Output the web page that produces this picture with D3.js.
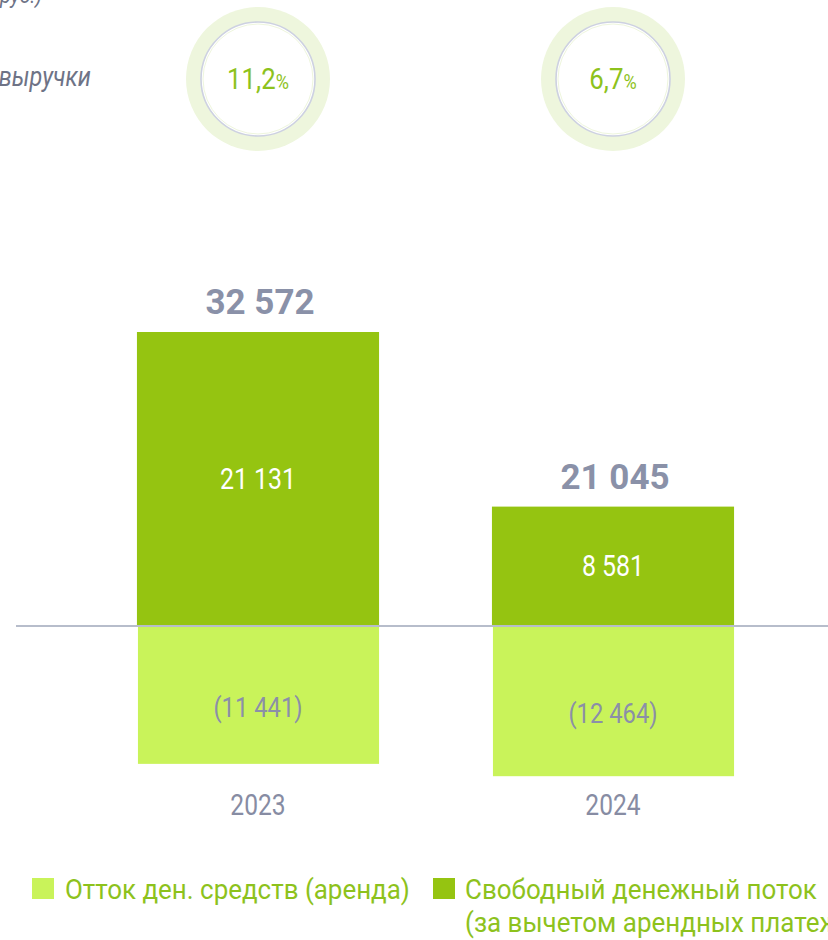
<!DOCTYPE html>
<html>
<head>
<meta charset="utf-8">
<script src="https://cdn.jsdelivr.net/npm/d3@7"></script>
<style>
  html, body { margin: 0; padding: 0; background: #fff; }
  svg { display: block; font-family: Roboto, "Noto Sans", sans-serif; }
</style>
</head>
<body>
<svg id="chart" width="828" height="940"></svg>
<script>
// ---- data ----
const years = ["2023", "2024"];
const freeCashFlow = [21131, 8581];          // Свободный денежный поток (за вычетом арендных платежей)
const leaseOutflow = [-11441, -12464];       // Отток ден. средств (аренда)
const totals = ["32 572", "21 045"];
const fcfLabels = ["21 131", "8 581"];
const leaseLabels = ["(11 441)", "(12 464)"];
const marginValues = ["11,2", "6,7"];        // % выручки
const legendLabels = ["Отток ден. средств (аренда)", "Свободный денежный поток", "(за вычетом арендных платежей)"];

// ---- style ----
const C = {
  dark: "#95c411",
  light: "#c9f35a",
  gray: "#8a90a7",
  axis: "#b7bdcb",
  green: "#8dc21c",
  ring: "#eef6dd",
  ringLine: "#cdd1e1",
  italic: "#6e7386"
};

const svg = d3.select("#chart");

const x = d3.scaleBand().domain(years).range([80.5, 790.5]).paddingInner(0.318).paddingOuter(0.159);
const y = d3.scaleLinear().domain([-11950, 0, 21131]).range([770, 626, 332]);

function condText(g, cx, cy, str, size, sx, opts = {}) {
  const t = g.append("text")
    .attr("transform", `translate(${cx},${cy}) scale(${sx},1)`)
    .attr("x", 0).attr("y", 0)
    .attr("text-anchor", opts.anchor || "middle")
    .attr("font-size", size)
    .attr("font-weight", opts.weight || 400)
    .attr("font-style", opts.italic ? "italic" : "normal")
    .attr("fill", opts.fill || C.gray)
    .text(str);
  return t;
}

// ---- top-left partial texts ----
condText(svg, 42, 3, "(млн руб.)", 22, 0.9, {anchor: "end", italic: true, fill: C.italic});
condText(svg, 91, 86, "выручки", 28, 0.84, {anchor: "end", italic: true, fill: C.italic});

// ---- margin circles ----
const circ = svg.append("g").selectAll("g").data(years).join("g")
  .attr("transform", d => `translate(${x(d) + x.bandwidth() / 2},79)`);
circ.append("circle").attr("r", 72).attr("fill", C.ring);
circ.append("circle").attr("r", 57).attr("fill", "#fff").attr("stroke", C.ringLine).attr("stroke-width", 1.6);
circ.append("circle").attr("r", 55).attr("fill", "none").attr("stroke", "#eef6dd").attr("stroke-width", 1);
circ.each(function(d, i) {
  const t = d3.select(this).append("text")
    .attr("transform", "translate(0,10) scale(0.86,1)")
    .attr("text-anchor", "middle")
    .attr("fill", C.green);
  t.append("tspan").attr("font-size", 30).text(marginValues[i]);
  t.append("tspan").attr("font-size", 21).text("%");
});

// ---- bars ----
const bars = svg.append("g");
bars.selectAll("rect.fcf").data(years).join("rect")
  .attr("class", "fcf")
  .attr("x", d => x(d)).attr("width", x.bandwidth())
  .attr("y", (d, i) => y(freeCashFlow[i]))
  .attr("height", (d, i) => y(0) - y(freeCashFlow[i]))
  .attr("fill", C.dark);
bars.selectAll("rect.lease").data(years).join("rect")
  .attr("class", "lease")
  .attr("x", d => x(d) + 1).attr("width", x.bandwidth() - 1)
  .attr("y", y(0))
  .attr("height", (d, i) => y(leaseOutflow[i]) - y(0))
  .attr("fill", C.light);

// zero line
svg.append("line")
  .attr("x1", 16).attr("x2", 828)
  .attr("y1", y(0)).attr("y2", y(0))
  .attr("stroke", C.axis).attr("stroke-width", 2);

// ---- labels ----
years.forEach((yr, i) => {
  const cx = x(yr) + x.bandwidth() / 2;
  const top = y(freeCashFlow[i]);
  condText(svg, cx + 2, top - 18, totals[i], 35, 1, {weight: 700, fill: "#8a91a8"});
  condText(svg, cx, (top + y(0)) / 2 + 10, fcfLabels[i], 29, 0.86, {fill: "#ffffff"});
  condText(svg, cx, (y(0) + y(leaseOutflow[i])) / 2 + 22, leaseLabels[i], 27, 0.88, {fill: "#8b8fa8"});
  condText(svg, cx, 815, yr, 30, 0.82, {fill: "#878ca3"});
});

// ---- legend ----
const leg = svg.append("g");
leg.append("rect").attr("x", 32).attr("y", 878).attr("width", 22).attr("height", 21).attr("fill", C.light);
leg.append("rect").attr("x", 433).attr("y", 878).attr("width", 22).attr("height", 21).attr("fill", C.dark);
const l1 = condText(leg, 65, 899, legendLabels[0], 27.5, 1, {anchor: "start", fill: C.green});
const w1 = l1.node().getComputedTextLength();
l1.attr("transform", `translate(65,899) scale(${345 / w1},1)`);
const l2 = condText(leg, 465, 899, legendLabels[1], 27.5, 1, {anchor: "start", fill: C.green});
const w2 = l2.node().getComputedTextLength();
const s2 = 352 / w2;
l2.attr("transform", `translate(465,899) scale(${s2},1)`);
condText(leg, 465, 932, legendLabels[2], 27.5, s2, {anchor: "start", fill: C.green});
</script>
</body>
</html>
